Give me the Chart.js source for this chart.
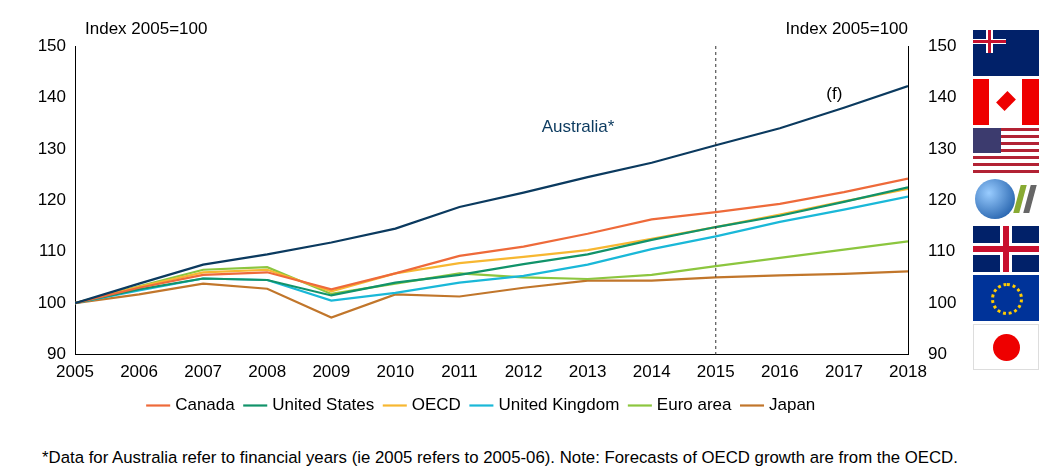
<!DOCTYPE html>
<html><head><meta charset="utf-8">
<script src="https://cdn.jsdelivr.net/npm/chart.js@4"></script>
<style>
body{margin:0;background:#fff;font-family:"Liberation Sans",Arial,sans-serif;}
#wrap{position:absolute;left:0;top:0;width:965px;height:424px;}
.flag{position:absolute;left:973px;width:66px;height:46px;overflow:hidden;box-sizing:border-box;}
#note{position:absolute;left:42px;top:448px;font-size:16.8px;color:#000;white-space:nowrap;}
</style></head><body>
<div id="wrap"><canvas id="c"></canvas></div>
<div class="flag" style="top:30px;background:#012169"><div style="position:absolute;left:0;top:0;width:33px;height:23px;background:linear-gradient(to bottom,transparent 40%,#fff 40%,#fff 60%,transparent 60%),linear-gradient(to right,transparent 40%,#fff 40%,#fff 60%,transparent 60%)"></div><div style="position:absolute;left:0;top:10px;width:33px;height:3px;background:#c8102e"></div><div style="position:absolute;left:15px;top:0;width:3px;height:23px;background:#c8102e"></div></div>
<div class="flag" style="top:79px;background:linear-gradient(to right,#e00 25%,#fff 25%,#fff 75%,#e00 75%)"><div style="position:absolute;left:27px;top:14px;width:12px;height:16px;background:#e00;transform:rotate(45deg)"></div></div>
<div class="flag" style="top:128px;background:repeating-linear-gradient(to bottom,#b22234 0,#b22234 3.5px,#fff 3.5px,#fff 7px)"><div style="position:absolute;left:0;top:0;width:28px;height:25px;background:#3c3b6e"></div></div>
<div class="flag" style="top:177px;"><div style="position:absolute;left:2px;top:2px;width:40px;height:40px;border-radius:50%;background:radial-gradient(circle at 35% 35%,#9cf,#0a4a9a)"></div><div style="position:absolute;left:44px;top:8px;width:6px;height:28px;background:#8a3;transform:skewX(-15deg)"></div><div style="position:absolute;left:54px;top:8px;width:6px;height:28px;background:#666;transform:skewX(-15deg)"></div></div>
<div class="flag" style="top:226px;background:#012169"><div style="position:absolute;left:0;top:17px;width:66px;height:12px;background:#fff"></div><div style="position:absolute;left:27px;top:0;width:12px;height:46px;background:#fff"></div><div style="position:absolute;left:0;top:20px;width:66px;height:6px;background:#c8102e"></div><div style="position:absolute;left:30px;top:0;width:6px;height:46px;background:#c8102e"></div></div>
<div class="flag" style="top:275px;background:#039"><div style="position:absolute;left:18px;top:8px;width:26px;height:26px;border-radius:50%;border:3px dotted #fc0"></div></div>
<div class="flag" style="top:324px;background:#fff;border:1px solid #ddd"><div style="position:absolute;left:19px;top:9px;width:27px;height:27px;border-radius:50%;background:#e00"></div></div>
<div id="note">*Data for Australia refer to financial years (ie 2005 refers to 2005-06). Note: Forecasts of OECD growth are from the OECD.</div>
<script>
const years = [2005,2006,2007,2008,2009,2010,2011,2012,2013,2014,2015,2016,2017,2018];
const australia = [100,103.8,107.5,109.5,111.8,114.5,118.7,121.5,124.5,127.3,130.7,134,138,142.2];
const canada = [100,103,105.5,106,102.7,105.8,109.2,111,113.5,116.3,117.7,119.3,121.6,124.2];
const unitedStates = [100,102.7,104.8,104.5,101.5,104,105.5,107.6,109.5,112.3,114.8,117,119.7,122.5];
const oecd = [100,103.2,106,106.5,102.3,105.8,107.8,109,110.3,112.5,114.8,117.2,119.8,122.2];
const unitedKingdom = [100,102.5,104.8,104.5,100.5,102,104,105.3,107.5,110.5,113,115.8,118.2,120.7];
const euroArea = [100,103.3,106.5,107,101.8,103.8,105.8,105,104.7,105.5,107.2,108.8,110.4,112];
const japan = [100,101.7,103.8,102.8,97.2,101.7,101.3,103,104.4,104.4,105,105.4,105.7,106.2];

function pts(arr){ return arr.map((v,i)=>({x:years[i],y:v})); }
function ds(label,data,color,legend=true){
  return {label,data:pts(data),borderColor:color,backgroundColor:color,borderWidth:2.2,pointRadius:0,tension:0,hideLegend:!legend};
}
const font = {family:'"Liberation Sans",Arial,sans-serif',size:17};
Chart.defaults.font = font;
Chart.defaults.color = '#000';

const extras = {
  id:'extras',
  afterDraw(chart){
    const {ctx,scales:{x,y}} = chart;
    ctx.save();
    ctx.strokeStyle='#333';ctx.lineWidth=1;ctx.setLineDash([3,3]);
    const px=x.getPixelForValue(2015);
    ctx.beginPath();ctx.moveTo(px,y.top);ctx.lineTo(px,y.bottom);ctx.stroke();
    ctx.setLineDash([]);
    ctx.font='17px "Liberation Sans",Arial';ctx.fillStyle='#000';ctx.textBaseline='alphabetic';
    ctx.textAlign='left';ctx.fillText('Index 2005=100',x.left+10,34);
    ctx.textAlign='right';ctx.fillText('Index 2005=100',x.right,34);
    ctx.textAlign='center';ctx.fillText('(f)',x.getPixelForValue(2016.85),y.getPixelForValue(139.6));
    ctx.fillStyle='#0b3a5f';ctx.fillText('Australia*',x.getPixelForValue(2012.85),y.getPixelForValue(133.3));
    ctx.restore();
  }
};

new Chart(document.getElementById('c'),{
  type:'line',
  data:{datasets:[
    ds('Australia',australia,'#0b3a5f',false),
    ds('Canada',canada,'#ee6a3a'),
    ds('United States',unitedStates,'#11936a'),
    ds('OECD',oecd,'#f7b731'),
    ds('United Kingdom',unitedKingdom,'#1ab8d8'),
    ds('Euro area',euroArea,'#8cc63f'),
    ds('Japan',japan,'#c1762b')
  ]},
  options:{
    responsive:true,maintainAspectRatio:false,animation:false,
    layout:{padding:{top:46,left:0,right:0,bottom:0}},
    plugins:{
      legend:{position:'bottom',labels:{filter:(it,d)=>!d.datasets[it.datasetIndex].hideLegend,usePointStyle:true,pointStyle:'line',boxWidth:52,padding:12,font}},
      tooltip:{enabled:false}
    },
    scales:{
      x:{type:'linear',min:2005,max:2018,grid:{display:false,drawTicks:true,tickLength:6},border:{color:'#000'},
         ticks:{stepSize:1,callback:v=>String(v),maxRotation:0,font,padding:2}},
      y:{min:90,max:150,grid:{display:false,tickLength:6},border:{color:'#000'},ticks:{stepSize:10,font},
         afterFit:s=>{s.width=75;}},
      y2:{position:'right',min:90,max:150,grid:{display:false,tickLength:6},border:{color:'#000'},ticks:{stepSize:10,font,padding:14},
         afterFit:s=>{s.width=57;}}
    }
  },
  plugins:[extras]
});
</script>
</body></html>
